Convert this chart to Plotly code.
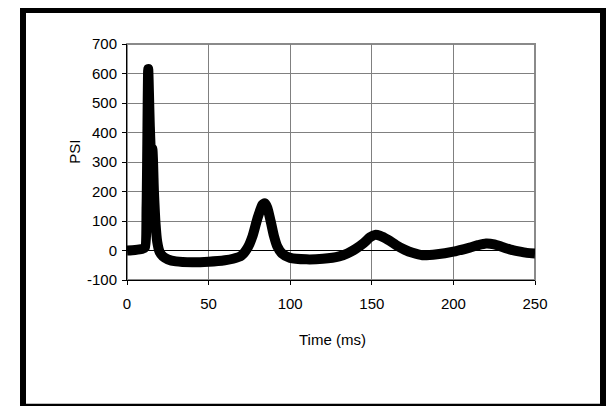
import plotly.graph_objects as go

time_ms = [0, 5, 9, 11, 12, 13, 14, 14.8, 15.5, 16.5, 17.5, 18.5, 20, 22, 25, 30, 40, 50, 60, 65, 70,
           74, 77, 80, 83, 84.5, 86, 88, 90, 92, 95, 100, 110, 120, 130, 135, 140, 145, 149, 152, 155,
           160, 165, 170, 175, 181, 190, 200, 210, 215, 220, 225, 230, 235, 240, 245, 250]
psi = [0, 2, 5, 10, 150, 615, 420, 330, 345, 200, 90, 30, -5, -20, -30, -37, -40, -38, -33, -28, -18,
       10, 50, 110, 155, 160, 145, 100, 50, 15, -10, -25, -30, -28, -20, -10, 5, 25, 45, 53, 50,
       36, 18, 3, -8, -16, -13, -4, 10, 18, 24, 21, 12, 3, -3, -8, -10]

x_ticks = [0, 50, 100, 150, 200, 250]
y_ticks = [-100, 0, 100, 200, 300, 400, 500, 600, 700]

# page is offset by the 8px body margin
OFF = 8
W, H = 615 - OFF, 406 - OFF
L, R, T, B = 127 - OFF, 535 - OFF, 44 - OFF, 280.5 - OFF
pw, ph = R - L, B - T

def px(x):
    return (x - OFF - L) / pw

def py(y):
    return (B - (y - OFF)) / ph

fig = go.Figure()
fig.add_trace(go.Scatter(x=time_ms, y=psi, mode="lines",
                         line=dict(color="black", width=10, shape="spline", smoothing=0.6),
                         hoverinfo="skip"))

font = dict(family="Arial, Liberation Sans, sans-serif", size=15, color="black")

fig.update_layout(
    width=W, height=H,
    margin=dict(l=L, r=W - R, t=T, b=H - B, pad=0),
    paper_bgcolor="white", plot_bgcolor="white",
    showlegend=False,
    font=font,
    xaxis=dict(range=[0, 250], tickvals=x_ticks, ticktext=[str(v) for v in x_ticks],
               showgrid=True, gridcolor="#808080", gridwidth=1,
               zeroline=False, showline=True, linecolor="black", linewidth=1,
               ticks="outside", ticklen=4, tickcolor="black", tickwidth=1,
               ticklabelstandoff=6, fixedrange=True),
    yaxis=dict(range=[-100, 700], tickvals=y_ticks, ticktext=[str(v) for v in y_ticks],
               showgrid=True, gridcolor="#808080", gridwidth=1,
               zeroline=True, zerolinecolor="black", zerolinewidth=1,
               showline=True, linecolor="black", linewidth=1,
               ticks="outside", ticklen=4, tickcolor="black", tickwidth=1,
               ticklabelstandoff=2, fixedrange=True),
    shapes=[
        dict(type="rect", xref="paper", yref="paper", x0=0, x1=1, y0=0, y1=1,
             line=dict(color="#8a8a8a", width=2), layer="below"),
        dict(type="rect", xref="paper", yref="paper",
             x0=px(23), x1=px(603), y0=py(10), y1=py(407.5),
             line=dict(color="black", width=6)),
    ],
    annotations=[
        dict(text="PSI", xref="paper", yref="paper", x=px(75), y=py(152),
             xanchor="center", yanchor="middle", textangle=-90, showarrow=False, font=font),
        dict(text="Time (ms)", xref="paper", yref="paper", x=px(332), y=py(340),
             xanchor="center", yanchor="middle", showarrow=False, font=font),
    ],
)

fig.write_html("out.html")
